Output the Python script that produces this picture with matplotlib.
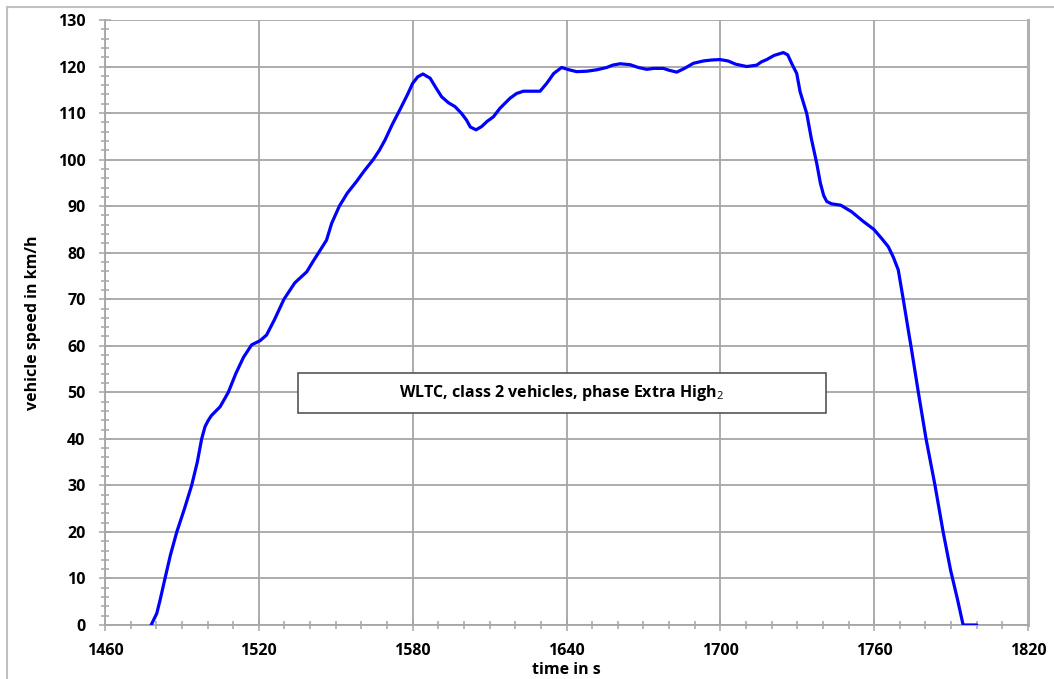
"""WLTC class 2, phase Extra High2: vehicle speed trace."""

import matplotlib
matplotlib.use("Agg")
import matplotlib.pyplot as plt
from matplotlib.patches import Rectangle
from matplotlib.lines import Line2D
from matplotlib.ticker import MultipleLocator

plt.rcParams["font.family"] = ["Open Sans", "DejaVu Sans"]
plt.rcParams["mathtext.fontset"] = "custom"
plt.rcParams["mathtext.rm"] = "Open Sans"

# speed trace (time in s, speed in km/h)
time_s = [
    1478, 1480.2, 1481.5, 1483.4, 1485.5, 1488, 1491, 1493.8, 1496, 1497.7,
    1499, 1500.2, 1501.5, 1504.9, 1508.1, 1511, 1514, 1517.2, 1520.5, 1523, 1526,
    1529.8, 1534, 1538.7, 1541, 1543.2, 1546.4, 1548.4, 1551.4, 1554.5, 1558.1,
    1561, 1564.6, 1567, 1569.2, 1572, 1575, 1578, 1580, 1582, 1584,
    1586.8, 1589, 1591.3, 1594, 1596.5, 1599.1, 1601, 1602.5, 1604.7, 1606.9,
    1609, 1611.5, 1614, 1618, 1620.5, 1623.2, 1626, 1629.7, 1632.3, 1635,
    1638.1, 1641, 1644, 1648, 1651.8, 1655.7, 1658, 1660.9, 1664.8, 1668,
    1671.3, 1674, 1677.8, 1680, 1683, 1686, 1689.5, 1693.4, 1696.5, 1699.9,
    1703, 1706, 1710.3, 1714.2, 1716, 1718.1, 1721, 1724.6, 1726.3, 1727.8,
    1729.8, 1731.1, 1733.7, 1735.5, 1737.6, 1739, 1740.3, 1741.5, 1743.4, 1747,
    1751.2, 1755.8, 1759.9, 1763, 1765.5, 1767.5, 1769.4, 1771.4, 1773.3, 1774.6,
    1777.2, 1780.2, 1783.7, 1786.9, 1789.8, 1792.5, 1794.7, 1800,
]
speed_kmh = [
    0, 2.5, 5.4, 10, 15, 20, 25, 30, 35, 40,
    42.6, 43.9, 45, 46.9, 50, 54, 57.5, 60.2, 61.1, 62.3, 65.5,
    70, 73.5, 75.9, 78, 79.9, 82.7, 86.3, 90, 92.8, 95.3,
    97.5, 100, 102, 104.2, 107.5, 110.7, 114, 116.4, 117.8, 118.4,
    117.5, 115.5, 113.5, 112.2, 111.4, 109.9, 108.5, 107, 106.4, 107.1,
    108.2, 109.2, 111, 113.2, 114.2, 114.7, 114.7, 114.7, 116.4, 118.5,
    119.8, 119.3, 118.9, 119, 119.3, 119.8, 120.3, 120.6, 120.4, 119.8,
    119.4, 119.6, 119.6, 119.2, 118.8, 119.6, 120.7, 121.2, 121.4, 121.5,
    121.2, 120.5, 120, 120.3, 121, 121.5, 122.4, 123, 122.5, 120.7,
    118.5, 114.6, 109.9, 104.5, 99.2, 95, 92.3, 91.0, 90.5, 90.2,
    88.8, 86.7, 85, 83, 81.3, 79, 76.3, 69.8, 63.4, 59.1,
    50.1, 40.1, 30.1, 20, 11.8, 5.5, 0, 0,
]

x_ticks = list(range(1460, 1821, 60))
y_ticks = list(range(0, 131, 10))
box_text = "WLTC, class 2 vehicles, phase Extra High$_2$"

GRID = "#a6a6a6"

fig = plt.figure(figsize=(10.54, 6.79), dpi=100)
ax = fig.add_axes([105 / 1054, 1 - 625 / 679, 923 / 1054, 605 / 679])

ax.plot(time_s, speed_kmh, color="#0000ff", lw=2.3, solid_joinstyle="round",
        solid_capstyle="round", zorder=3)

ax.set_xlim(x_ticks[0], x_ticks[-1])
ax.set_ylim(y_ticks[0], y_ticks[-1])
ax.set_xticks(x_ticks, [str(t) for t in x_ticks], fontsize=11.5, fontweight="bold")
ax.set_yticks(y_ticks, [str(t) for t in y_ticks], fontsize=11.5, fontweight="bold")
ax.set_xticks(list(range(1460, 1821, 10)), minor=True)
ax.yaxis.set_minor_locator(MultipleLocator(2))
ax.grid(True, which="major", color=GRID, lw=1.3)
ax.set_axisbelow(True)

ax.spines["top"].set_visible(False)
for side in ("left", "bottom"):
    ax.spines[side].set_color(GRID)
    ax.spines[side].set_linewidth(1.3)
ax.spines["right"].set_color("#b0b0b0")
ax.spines["right"].set_linewidth(2.2)

ax.tick_params(which="both", direction="inout", color=GRID, width=1.1)
ax.tick_params(which="major", length=8)
ax.tick_params(which="minor", length=6)
ax.tick_params(axis="x", pad=9)
ax.tick_params(axis="y", pad=10)

ax.set_xlabel("time in s", fontsize=11.5, fontweight="bold", labelpad=2)
ax.set_ylabel("vehicle speed in km/h", fontsize=11.5, fontweight="bold", labelpad=12)

# title box inside the plot
ax.add_patch(Rectangle((1535.3, 45.5), 205.9, 8.6, facecolor="white",
                       edgecolor="#555555", lw=1.2, zorder=4))
ax.text(1638.2, 49.8, box_text, ha="center", va="center", fontsize=11.5,
        fontweight="bold", zorder=5)

# outer chart frame (left and top edges)
fig.add_artist(Line2D([7 / 1054, 7 / 1054], [0, 1 - 7 / 679], color="#c0c0c0", lw=1.5))
fig.add_artist(Line2D([7 / 1054, 1], [1 - 7 / 679, 1 - 7 / 679], color="#c0c0c0", lw=1.5))

fig.savefig("out.png", dpi=100)
